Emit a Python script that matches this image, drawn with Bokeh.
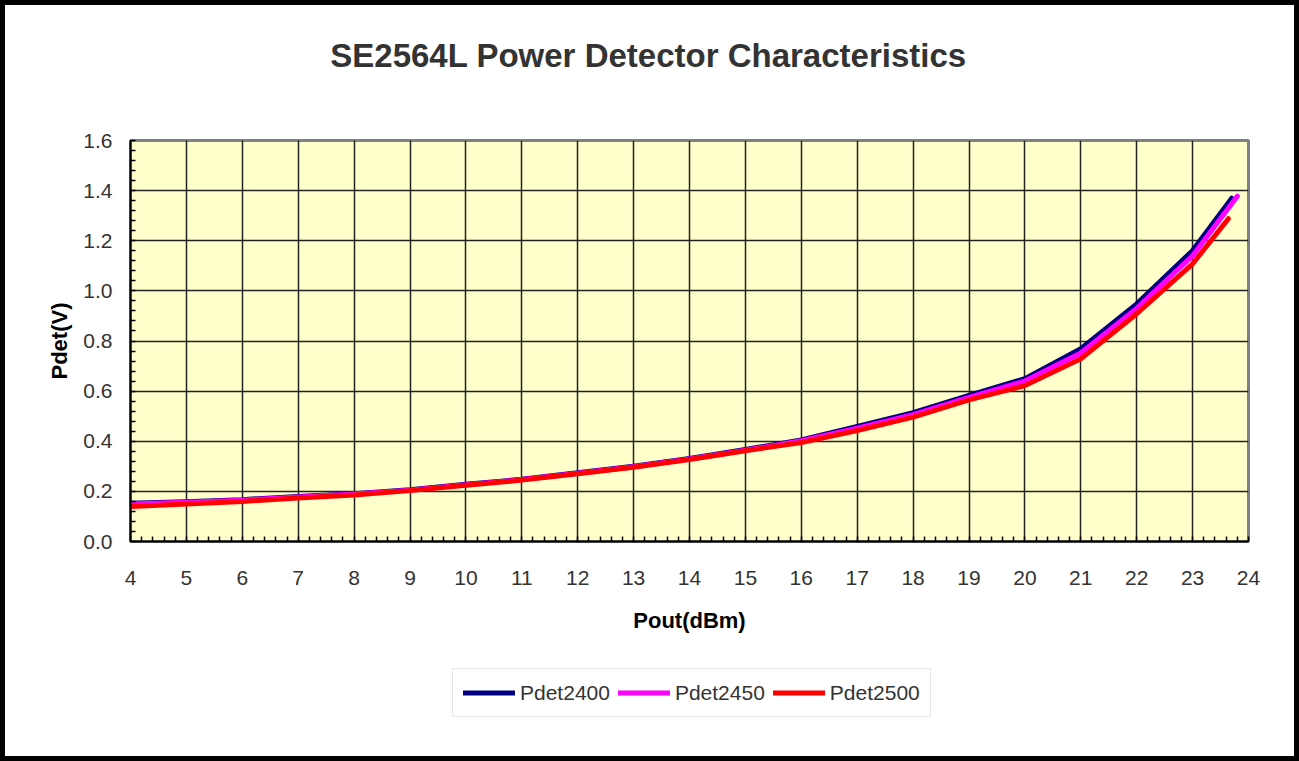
from bokeh.plotting import figure
from bokeh.layouts import column
from bokeh.models import FixedTicker, Label, Legend, LegendItem, NumeralTickFormatter, Range1d
from bokeh.embed import file_html
from bokeh.resources import INLINE

title_text = "SE2564L Power Detector Characteristics"
x_label = "Pout(dBm)"
y_label = "Pdet(V)"

x_2400 = [4, 5, 6, 7, 8, 9, 10, 11, 12, 13, 14, 15, 16, 17, 18, 19, 20, 21, 22, 23, 23.7]
pdet_2400 = [0.153, 0.159, 0.167, 0.180, 0.191, 0.207, 0.228, 0.248, 0.274, 0.300, 0.331,
             0.367, 0.405, 0.459, 0.514, 0.583, 0.650, 0.769, 0.948, 1.161, 1.370]
x_2450 = [4, 5, 6, 7, 8, 9, 10, 11, 12, 13, 14, 15, 16, 17, 18, 19, 20, 21, 22, 23, 23.8]
pdet_2450 = [0.150, 0.157, 0.165, 0.178, 0.190, 0.205, 0.226, 0.247, 0.272, 0.298, 0.329,
             0.364, 0.402, 0.452, 0.506, 0.575, 0.640, 0.752, 0.930, 1.140, 1.378]
x_2500 = [4, 5, 6, 7, 8, 9, 10, 11, 12, 13, 14, 15, 16, 17, 18, 19, 20, 21, 22, 23, 23.64]
pdet_2500 = [0.140, 0.150, 0.160, 0.174, 0.186, 0.203, 0.224, 0.245, 0.270, 0.296, 0.327,
             0.362, 0.395, 0.443, 0.496, 0.565, 0.622, 0.729, 0.909, 1.108, 1.288]

series_names = ["Pdet2400", "Pdet2450", "Pdet2500"]
series_colors = ["#000080", "#FF00FF", "#FF0000"]

x_ticks = list(range(4, 25))
x_minor = [4 + i * 0.2 for i in range(101)]
y_ticks = [0.0, 0.2, 0.4, 0.6, 0.8, 1.0, 1.2, 1.4, 1.6]
y_minor = [i * 0.04 for i in range(41)]

FONT = "Liberation Sans"
W = 1289

xs = [x_2400, x_2450, x_2500]
ys = [pdet_2400, pdet_2450, pdet_2500]


def blank_fig(h):
    f = figure(width=W, height=h, output_backend="svg", toolbar_location=None,
               x_axis_type=None, y_axis_type=None,
               x_range=Range1d(0, 1), y_range=Range1d(0, 1),
               min_border_left=0, min_border_right=0, min_border_top=0, min_border_bottom=0)
    f.outline_line_color = None
    f.xgrid.visible = False
    f.ygrid.visible = False
    f.background_fill_color = "white"
    f.border_fill_color = "white"
    return f


# ---- title strip ----
t = blank_fig(80)
t.add_layout(Label(x=518, y=30, x_units="screen", y_units="screen", text=title_text,
                   text_align="center", text_baseline="middle",
                   text_font=FONT, text_font_size="33px", text_font_style="bold",
                   text_color="#333333"))

# ---- main chart ----
p = figure(width=W, height=565, output_backend="svg", toolbar_location=None,
           x_range=Range1d(4, 24), y_range=Range1d(0, 1.6),
           min_border_left=125, min_border_right=46, min_border_top=55, min_border_bottom=109)
p.background_fill_color = "#FFFFCC"
p.border_fill_color = "white"
p.outline_line_color = "#808080"
p.outline_line_width = 3

for ax in (p.xaxis[0], p.yaxis[0]):
    ax.axis_line_color = "black"
    ax.axis_line_width = 2
    ax.major_tick_in = 0
    ax.major_tick_out = 0
    ax.minor_tick_in = 5
    ax.minor_tick_out = 0
    ax.minor_tick_line_color = "black"
    ax.minor_tick_line_width = 1.5
    ax.major_label_text_font = FONT
    ax.major_label_text_font_size = "21px"
    ax.major_label_text_color = "#333333"
    ax.axis_label_text_font = FONT
    ax.axis_label_text_font_size = "22px"
    ax.axis_label_text_font_style = "bold"
    ax.axis_label_text_color = "black"

p.xaxis[0].ticker = FixedTicker(ticks=x_ticks, minor_ticks=x_minor)
p.yaxis[0].ticker = FixedTicker(ticks=y_ticks, minor_ticks=y_minor)
p.yaxis[0].formatter = NumeralTickFormatter(format="0.0")
p.xaxis[0].major_label_standoff = 29
p.yaxis[0].major_label_standoff = 18
p.xaxis[0].axis_label = x_label
p.yaxis[0].axis_label = y_label
p.xaxis[0].axis_label_standoff = 20
p.yaxis[0].axis_label_standoff = 8

p.xgrid.grid_line_color = "#222222"
p.ygrid.grid_line_color = "#222222"
p.xgrid.grid_line_width = 1.5
p.ygrid.grid_line_width = 1.5

for xv, yv, c in zip(xs, ys, series_colors):
    p.line(xv, yv, line_color=c, line_width=5, line_cap="round", line_join="round")

# ---- legend strip (its lines fall outside this strip's view, only the legend shows) ----
lg = blank_fig(106)
leg_renderers = [lg.line(xv, yv, line_color=c, line_width=5, line_cap="round")
                 for xv, yv, c in zip(xs, ys, series_colors)]
legend = Legend(items=[LegendItem(label=n, renderers=[r]) for n, r in zip(series_names, leg_renderers)],
                orientation="horizontal", location=(322, 39),
                glyph_width=52, glyph_height=27, label_height=27, label_standoff=5,
                spacing=8, padding=10, margin=0,
                label_text_font=FONT, label_text_font_size="21px", label_text_color="#333333",
                border_line_color="#D0D0D0", border_line_width=1,
                background_fill_color="white", background_fill_alpha=1)
lg.add_layout(legend, "center")

layout = column(t, p, lg, spacing=0)
layout.styles = {"border": "5px solid black", "background-color": "white"}

open("out.html", "w").write(file_html(layout, INLINE))
